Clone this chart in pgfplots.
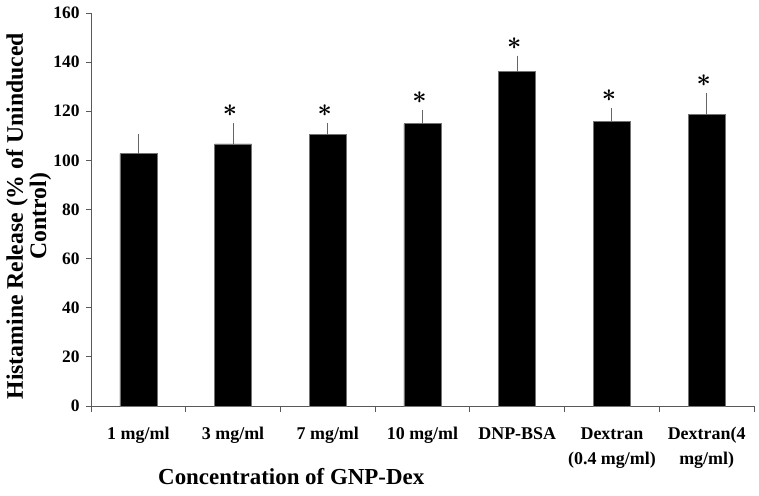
\documentclass[border=0pt]{standalone}
\usepackage{fontspec}
\setmainfont{Liberation Serif}
\usepackage{pgfplots}
\pgfplotsset{compat=1.18}
\begin{document}
\begin{tikzpicture}
\useasboundingbox (-91bp,-90bp) rectangle (668bp,406bp);
\begin{axis}[
  scale only axis, width=663bp, height=393bp,
  at={(0,0)}, anchor=south west,
  xmin=-0.5, xmax=6.5, ymin=0, ymax=160,
  axis lines=left,
  axis line style={-, draw=black!65, line width=0.9bp},
  every tick/.style={draw=black!65, line width=0.9bp},
  tick align=outside,
  major tick length=5bp, minor tick length=6bp,
  ytick={0,20,...,160},
  xtick={0,...,6},
  major x tick style={draw=none},
  minor xtick={-0.5,0.5,...,6.5},
  xticklabels={1 mg/ml, 3 mg/ml, 7 mg/ml, 10 mg/ml, DNP-BSA, {Dextran\\[3bp](0.4 mg/ml)}, {Dextran(4\\[3bp]mg/ml)}},
  xticklabel style={font=\fontsize{18}{22}\selectfont\bfseries, align=center, yshift=-13bp},
  yticklabel style={font=\fontsize{17.5}{20}\selectfont\bfseries, xshift=-3bp},
  /pgf/number format/assume math mode=true,
  ylabel={Histamine Release (\% of Uninduced\\Control)},
  ylabel style={at={(axis description cs:-0.094,0.483)}, anchor=center, rotate=0, align=center, font=\fontsize{23.8}{23.5}\selectfont\bfseries},
  xlabel={Concentration of GNP-Dex},
  xlabel style={at={(axis description cs:0.302,0)}, anchor=center, yshift=-71bp, font=\fontsize{23}{26}\selectfont\bfseries},
  clip=false,
]
\addplot[ybar, bar width=37bp, fill=black, draw=black!55, line width=0.6bp,
  error bars/.cd, y dir=plus, y explicit,
  error bar style={draw=black!60, line width=1bp},
  error mark options={draw=black!60, line width=1bp, mark size=3bp}]
  coordinates {
  (0,102.7) +- (0,6.8)
  (1,106.7) +- (0,7.3)
  (2,110.6) +- (0,3.5)
  (3,115.0) +- (0,4.4)
  (4,136.1) +- (0,5.3)
  (5,115.9) +- (0,4.2)
  (6,118.6) +- (0,7.7)
  };
\addplot[draw=none, mark=none,
  nodes near coords={$\ast$},
  nodes near coords align={above},
  every node near coord/.append style={font=\fontsize{27}{27}\selectfont\boldmath, yshift=6bp, xshift=-3bp}]
  coordinates {(1,114.0) (2,114.1) (3,119.4) (4,141.4) (5,120.1) (6,126.3)};
\end{axis}
\end{tikzpicture}
\end{document}
